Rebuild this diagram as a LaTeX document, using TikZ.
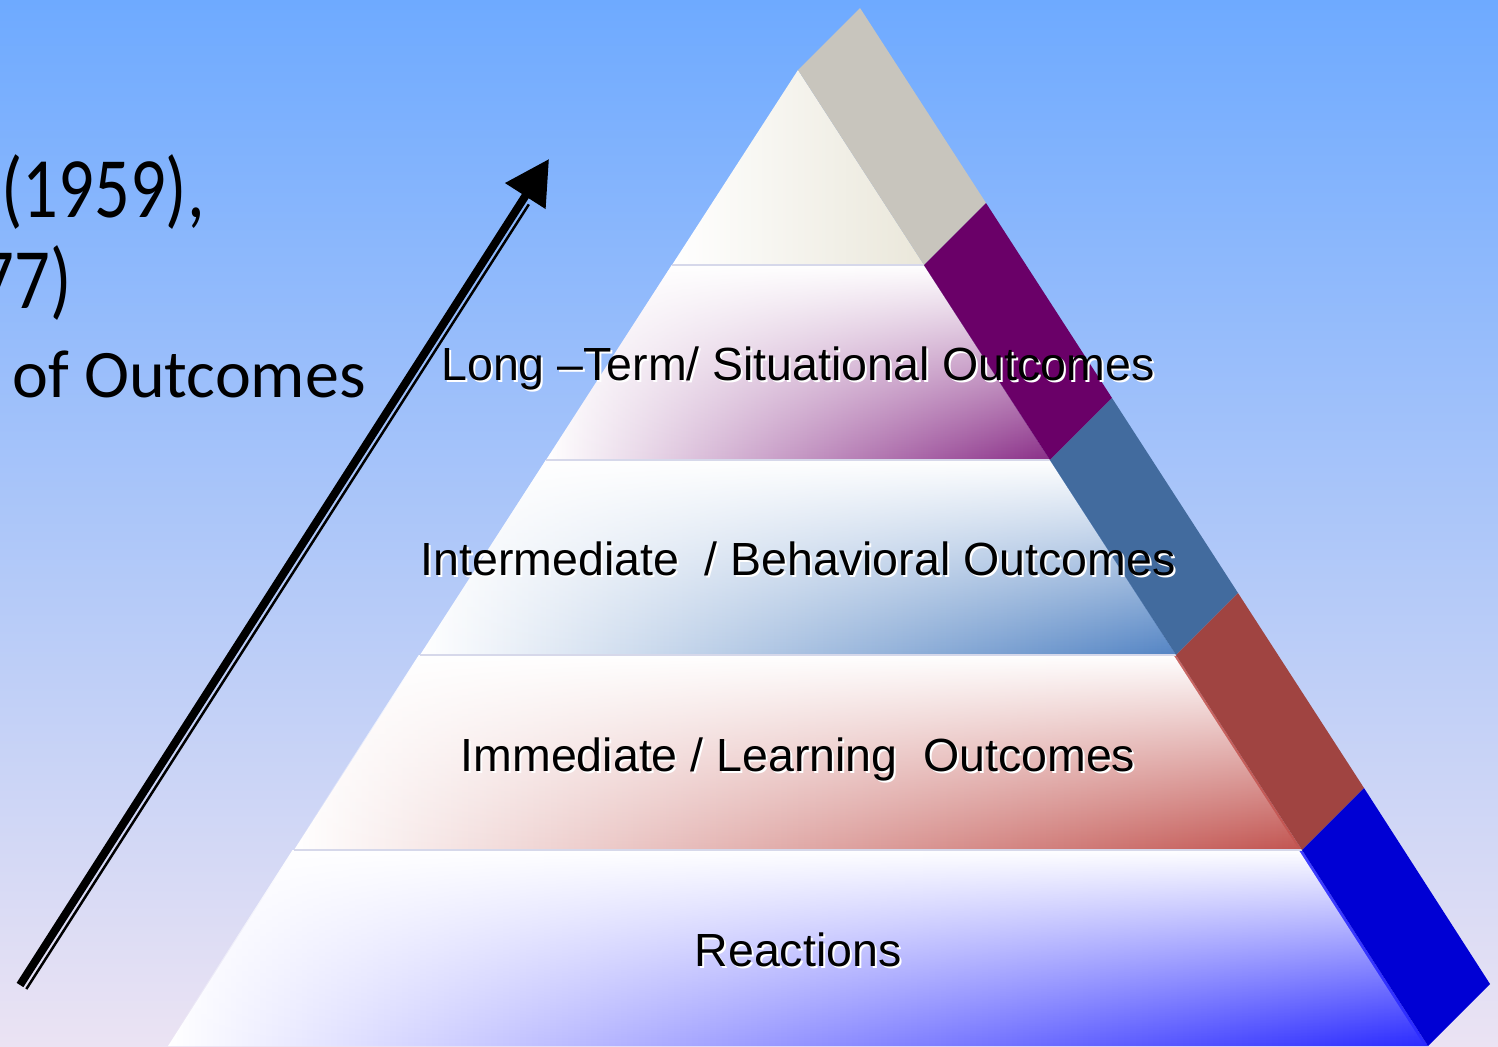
\documentclass[tikz,border=0pt]{standalone}
\usepackage{fontspec}
\setmainfont{Liberation Sans}
\newfontfamily\leftfont{Carlito}
\usetikzlibrary{calc,arrows.meta,fadings}
\tikzfading[name=fadedown, top color=transparent!0, bottom color=transparent!100]
\definecolor{bgtop}{HTML}{6EAAFF}
\definecolor{bgmid}{HTML}{A8C9F3}
\definecolor{bgbot}{HTML}{EBE3F3}
\definecolor{cA}{HTML}{EAE7DA}
\definecolor{cB}{HTML}{8A2F88}
\definecolor{cC}{HTML}{5384C4}
\definecolor{cD}{HTML}{C25450}
\definecolor{cE}{HTML}{2A2AFF}
\definecolor{sA}{HTML}{C8C5BD}
\definecolor{sB}{HTML}{6A0068}
\definecolor{sC}{HTML}{426B9E}
\definecolor{sD}{HTML}{A04441}
\definecolor{sE}{HTML}{0000D4}
\definecolor{sepcol}{HTML}{D6D8EA}
\tikzset{
  lbl/.style={font=\fontsize{46.5}{50}\selectfont, inner sep=0pt, anchor=base, text=black},
  lblshadow/.style={lbl, text=white},
  lefttxt/.style={font=\leftfont\fontsize{68}{80}\selectfont, inner sep=0pt},
  leftbig/.style={font=\leftfont\fontsize{86}{90}\selectfont, inner sep=0pt},
  sepline/.style={draw=sepcol, line width=1.2pt},
  layerfill/.style={left color=white, middle color=#1!22!white, right color=#1},
  whitefade/.style={fill=white, path fading=fadedown},
}
\begin{document}
\begin{tikzpicture}[x=1pt,y=-1pt]
\useasboundingbox (0,0) rectangle (1498,1046);
\shade[top color=bgtop, middle color=bgmid, bottom color=bgbot] (0,0) rectangle (1498,1046);

% left text (cut off at the left edge)
\begin{scope}
\clip (0,0) rectangle (1498,1046);
\node[leftbig, anchor=base east] (y1) at (205,217) {\scalebox{0.82}[1]{(1959),}};
\node[leftbig, anchor=base east] (y2) at (72,308) {\scalebox{0.82}[1]{77)}};
\node[lefttxt, anchor=base west] (oc) at (12,397) {of Outcomes};
\end{scope}

% arrow
\coordinate (arrS) at (20,985);
\coordinate (arrE) at (549,159);
\draw[line width=8pt, -{Triangle[length=44pt,width=46pt]}] (arrS) -- (arrE);
\draw[line width=2.5pt] ($(arrS)!7.5pt!-90:(arrE)$) -- ($($(arrS)!0.95!(arrE)$)!7.5pt!-90:(arrE)$);

% front face layers
\def\layA{(798,70) -- (924,265) -- (672,265) -- cycle}
\def\layB{(672,265) -- (924,265) -- (1050,460) -- (546,460) -- cycle}
\def\layC{(546,460) -- (1050,460) -- (1176,655) -- (420,655) -- cycle}
\def\layD{(420,655) -- (1176,655) -- (1302,850) -- (294,850) -- cycle}
\def\layE{(294,850) -- (1302,850) -- (1428,1046) -- (168,1046) -- cycle}

\shade[left color=white, right color=cA] \layA;
\shade[layerfill=cB] \layB; \path[whitefade] \layB;
\shade[layerfill=cC] \layC; \path[whitefade] \layC;
\shade[layerfill=cD] \layD; \path[whitefade] \layD;
\shade[layerfill=cE] \layE; \path[whitefade] \layE;

\draw[sepline] (672,265) -- (924,265);
\draw[sepline] (546,460) -- (1050,460);
\draw[sepline] (420,655) -- (1176,655);
\draw[sepline] (294,850) -- (1302,850);

% side face bands
\fill[sA] (798,70) -- (860,8) -- (986,203) -- (924,265) -- cycle;
\fill[sB] (924,265) -- (986,203) -- (1112,398) -- (1050,460) -- cycle;
\fill[sC] (1050,460) -- (1112,398) -- (1238,593) -- (1176,655) -- cycle;
\fill[sD] (1176,655) -- (1238,593) -- (1364,788) -- (1302,850) -- cycle;
\fill[sE] (1302,850) -- (1364,788) -- (1490,984) -- (1428,1046) -- cycle;

% labels with white shadow
\node[lblshadow] (t1s) at (800,382) {Long –Term/ Situational Outcomes};
\node[lbl] (t1) at (798,380) {Long –Term/ Situational Outcomes};
\node[lblshadow] (t2s) at (800,577) {Intermediate~ / Behavioral Outcomes};
\node[lbl] (t2) at (798,575) {Intermediate~ / Behavioral Outcomes};
\node[lblshadow] (t3s) at (800,773) {Immediate / Learning~ Outcomes};
\node[lbl] (t3) at (798,771) {Immediate / Learning~ Outcomes};
\node[lblshadow] (t4s) at (800,968) {Reactions};
\node[lbl] (t4) at (798,966) {Reactions};
\end{tikzpicture}
\end{document}
